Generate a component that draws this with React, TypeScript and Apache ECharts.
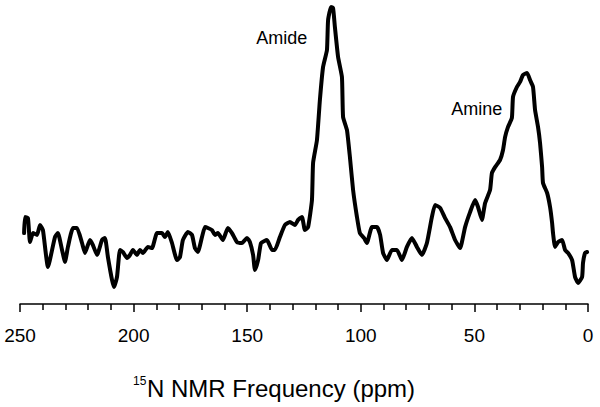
import React, { useEffect, useRef } from "react";
import * as echarts from "echarts";

// Chemical shift (ppm) of each traced point of the spectrum
const ppm: number[] = [
  248.2, 247.8, 246.5, 245.6, 244.3, 242.5, 241.2, 239.9, 237.7, 234.6,
  233.3, 231.5, 230.2, 228.9, 226.7, 224.9, 222.7, 221.4, 219.2, 217.9,
  216.1, 213.9, 212.6, 211.3, 209.5, 208.6, 207.3, 206.0, 204.7, 202.9,
  201.6, 200.3, 198.5, 197.2, 195.9, 193.7, 191.9, 189.7, 187.5, 186.2,
  184.9, 183.1, 180.9, 179.6, 178.3, 176.1, 174.3, 173.0, 171.7, 169.9,
  168.6, 167.3, 165.5, 164.2, 162.9, 160.7, 158.5, 156.7, 154.5, 152.3,
  150.1, 148.8, 147.4, 146.6, 145.2, 143.9, 141.3, 139.1, 137.8, 135.6,
  133.4, 131.2, 129.0, 127.6, 125.9, 124.6, 123.2, 121.5, 121.0, 119.3,
  118.0, 116.6, 114.9, 114.4, 113.1, 112.2, 111.4, 110.0, 108.3, 107.8,
  106.1, 104.8, 103.4, 101.7, 100.4, 98.6, 97.3, 95.1, 92.9, 91.5,
  90.2, 88.5, 86.3, 84.1, 81.9, 79.7, 77.5, 75.3, 73.1, 70.9,
  68.7, 67.3, 65.1, 62.9, 60.7, 58.5, 56.3, 54.1, 51.9, 49.7,
  48.4, 46.7, 45.3, 43.1, 42.3, 40.9, 38.7, 37.4, 36.5, 35.2,
  33.5, 33.0, 31.3, 29.9, 28.6, 26.8, 25.5, 24.2, 23.3, 22.0,
  21.1, 20.2, 19.8, 18.0, 16.7, 15.8, 15.4, 14.5, 13.2, 11.4,
  10.1, 8.8, 7.0, 5.7, 4.4, 2.6, 2.2, 1.3, 0.4,
];

// Signal intensity (arbitrary units) at each of those shifts
const intensity: number[] = [
  24.3, 29.7, 29.3, 21.3, 24.3, 23.7, 27.0, 25.3, 13.0, 23.0,
  24.3, 18.7, 14.7, 19.7, 26.0, 26.0, 21.0, 17.7, 22.0, 20.3,
  17.0, 22.0, 22.7, 16.3, 8.7, 6.3, 9.7, 18.7, 18.0, 16.0,
  17.0, 18.7, 17.0, 18.7, 17.7, 19.7, 19.3, 24.3, 24.3, 23.0,
  24.7, 21.0, 15.3, 16.3, 22.0, 24.7, 23.7, 19.3, 18.0, 23.0,
  26.3, 26.0, 25.3, 23.7, 24.3, 22.0, 26.0, 24.3, 21.3, 21.0,
  22.7, 21.3, 17.0, 12.0, 15.3, 21.0, 22.0, 18.7, 18.7, 23.0,
  27.0, 28.0, 27.0, 28.7, 29.7, 25.3, 26.3, 35.3, 47.7, 55.3,
  68.7, 79.7, 85.3, 95.3, 99.7, 99.3, 93.0, 83.0, 76.3, 63.0,
  58.7, 49.7, 38.7, 29.7, 24.3, 22.7, 21.0, 26.3, 26.3, 23.7,
  17.7, 15.3, 18.7, 18.7, 15.3, 19.7, 22.7, 19.7, 17.0, 21.0,
  29.7, 33.7, 32.7, 29.3, 26.3, 22.0, 19.3, 26.3, 31.3, 35.3,
  33.0, 28.7, 34.3, 38.7, 44.3, 46.3, 48.7, 52.0, 56.3, 59.7,
  62.7, 69.7, 73.0, 74.7, 77.0, 77.7, 75.3, 73.0, 65.3, 59.7,
  54.3, 46.3, 41.0, 37.7, 33.0, 27.7, 24.3, 19.7, 21.3, 22.0,
  18.7, 17.7, 15.3, 9.7, 7.7, 9.7, 14.3, 17.7, 18.0,
];

// X-axis tick values (ppm)
const xTicks: number[] = [250, 200, 150, 100, 50, 0];

const peakLabels: string[] = ["Amide", "Amine"];
const axisTitleSup = "15";
const axisTitleMain = "N NMR Frequency (ppm)";

const FONT = "'Liberation Sans', Arial, Helvetica, sans-serif";

export default function App() {
  const ref = useRef<HTMLDivElement>(null);

  useEffect(() => {
    if (!ref.current) return;
    const chart = echarts.init(ref.current, null, { renderer: "svg" });
    const data = ppm.map((p, i) => [p, intensity[i]]);
    chart.setOption({
      animation: false,
      backgroundColor: "#ffffff",
      grid: { left: 20, right: 12, top: 6, bottom: 103 },
      xAxis: {
        type: "value",
        inverse: true,
        min: xTicks[xTicks.length - 1],
        max: xTicks[0],
        interval: 50,
        axisLine: { onZero: false, lineStyle: { color: "#000", width: 1.5 } },
        axisTick: { show: true, length: 8, lineStyle: { color: "#000", width: 1.5 } },
        minorTick: { show: true, splitNumber: 5, length: 6, lineStyle: { color: "#000", width: 1.5 } },
        splitLine: { show: false },
        axisLabel: { color: "#000", fontSize: 19, fontFamily: FONT, margin: 22 },
      },
      yAxis: {
        type: "value",
        min: 2 / 3,
        max: 100,
        show: false,
        splitLine: { show: false },
      },
      series: [
        {
          type: "line",
          data,
          showSymbol: false,
          symbol: "none",
          smooth: 0.15,
          clip: false,
          lineStyle: { color: "#000", width: 4, join: "round", cap: "round" },
        },
      ],
      graphic: [
        {
          type: "text",
          x: 281.7,
          y: 38.3,
          style: {
            text: peakLabels[0],
            fill: "#000",
            font: `18px ${FONT}`,
            align: "center",
            verticalAlign: "middle",
          },
        },
        {
          type: "text",
          x: 476.7,
          y: 108.8,
          style: {
            text: peakLabels[1],
            fill: "#000",
            font: `18px ${FONT}`,
            align: "center",
            verticalAlign: "middle",
          },
        },
        {
          type: "text",
          x: 133,
          y: 381,
          style: {
            text: axisTitleSup,
            fill: "#000",
            font: `12px ${FONT}`,
            align: "left",
            verticalAlign: "middle",
          },
        },
        {
          type: "text",
          x: 147,
          y: 388,
          style: {
            text: axisTitleMain,
            fill: "#000",
            font: `24px ${FONT}`,
            align: "left",
            verticalAlign: "middle",
          },
        },
      ],
    });
    return () => chart.dispose();
  }, []);

  return (
    <div
      ref={ref}
      style={{ width: 600, height: 407, position: "absolute", left: 0, top: 0 }}
    />
  );
}
